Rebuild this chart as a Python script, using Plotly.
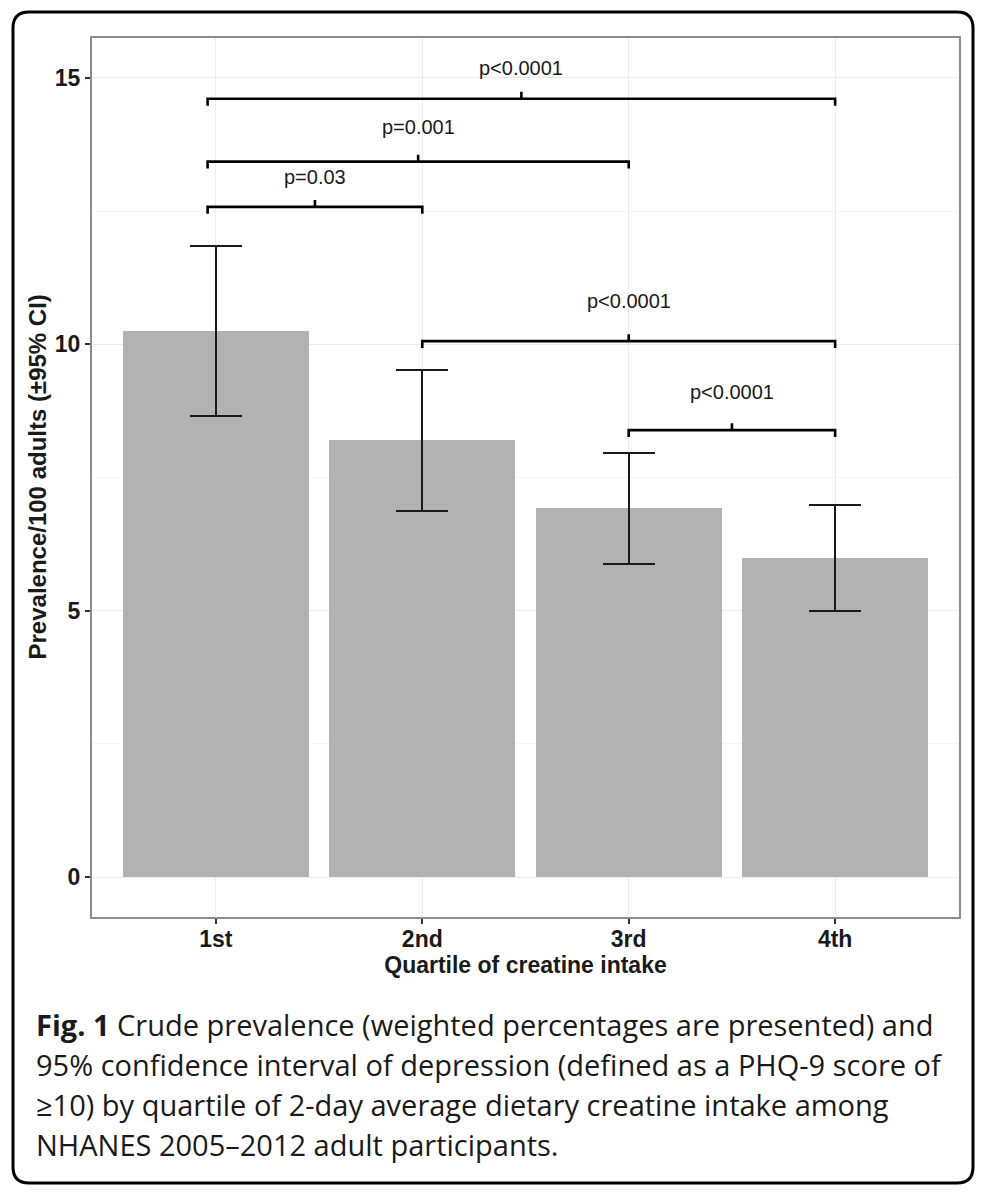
import plotly.graph_objects as go

# ---------------- data ----------------
quartiles = ["1st", "2nd", "3rd", "4th"]
quartile_pos = [1, 2, 3, 4]
prevalence = [10.25, 8.20, 6.93, 5.99]
ci_upper = [11.85, 9.52, 7.96, 6.98]
ci_lower = [8.66, 6.87, 5.88, 4.99]

# significance brackets
bracket_start = [0.96, 0.96, 0.96, 2.0, 3.0]
bracket_end = [2.0, 3.0, 4.0, 4.0, 4.0]
bracket_y = [12.58, 13.43, 14.61, 10.06, 8.39]
bracket_label = ["p=0.03", "p=0.001", "p<0.0001", "p<0.0001", "p<0.0001"]
label_y = [13.14, 14.08, 15.19, 10.81, 9.11]

y_ticks = [0, 5, 10, 15]

caption_lines = [
    "<b>Fig. 1</b> Crude prevalence (weighted percentages are presented) and",
    "95% confidence interval of depression (defined as a PHQ-9 score of",
    "\u226510) by quartile of 2-day average dietary creatine intake among",
    "NHANES 2005\u20132012 adult participants.",
]

# ---------------- layout constants ----------------
W, H = 986, 1200
ML, MR, MT, MB = 92, 27, 38, 283
PW, PH = W - ML - MR, H - MT - MB
X_RANGE = [0.4, 4.6]
Y_RANGE = [-0.75, 15.75]
BOLD = "Liberation Sans"


def px_to_paper_x(px):
    return (px - ML) / PW


def px_to_paper_y(py):
    return (H - MB - py) / PH


fig = go.Figure()

fig.add_trace(go.Bar(
    x=quartile_pos, y=prevalence, width=0.9,
    marker=dict(color="#b2b2b2", line=dict(width=0)),
    error_y=dict(type="data", symmetric=False,
                 array=[u - p for u, p in zip(ci_upper, prevalence)],
                 arrayminus=[p - l for p, l in zip(prevalence, ci_lower)],
                 color="#1a1a1a", thickness=1.8, width=26),
    showlegend=False, hoverinfo="skip",
))

# brackets
drop = 0.13
for xs, xe, yb, lab, ly in zip(bracket_start, bracket_end, bracket_y, bracket_label, label_y):
    mid = (xs + xe) / 2
    fig.add_trace(go.Scatter(
        x=[xs, xs, mid, mid, mid, xe, xe],
        y=[yb - drop, yb, yb, yb + drop, yb, yb, yb - drop],
        mode="lines", line=dict(color="black", width=2.6),
        showlegend=False, hoverinfo="skip",
    ))
    fig.add_annotation(x=mid, y=ly, text=lab, showarrow=False,
                       font=dict(family="Liberation Sans", size=20, color="#1a1a1a"),
                       xanchor="center", yanchor="middle")

# caption
cap_centers = [1024, 1064, 1104, 1145]
for line, cy in zip(caption_lines, cap_centers):
    fig.add_annotation(xref="paper", yref="paper",
                       x=px_to_paper_x(34), y=px_to_paper_y(cy),
                       text=line, showarrow=False, xanchor="left", yanchor="middle",
                       font=dict(family="Open Sans", size=29, color="#1a1a1a"))

# y-axis title
fig.add_annotation(xref="paper", yref="paper", x=px_to_paper_x(37), y=0.5,
                   text="<b>Prevalence/100 adults (\u00b195% CI)</b>", textangle=-90,
                   showarrow=False, xanchor="center", yanchor="middle",
                   font=dict(family=BOLD, size=24, color="#1a1a1a"))

# outer rounded frame
x0, x1 = px_to_paper_x(13), px_to_paper_x(973)
y0, y1 = px_to_paper_y(1183), px_to_paper_y(12)
rx, ry = 16 / PW, 16 / PH
path = (f"M {x0+rx},{y1} L {x1-rx},{y1} Q {x1},{y1} {x1},{y1-ry} "
        f"L {x1},{y0+ry} Q {x1},{y0} {x1-rx},{y0} L {x0+rx},{y0} "
        f"Q {x0},{y0} {x0},{y0+ry} L {x0},{y1-ry} Q {x0},{y1} {x0+rx},{y1} Z")
fig.add_shape(type="path", path=path, xref="paper", yref="paper",
              line=dict(color="black", width=3))

fig.update_layout(
    width=W, height=H,
    margin=dict(l=ML, r=MR, t=MT, b=MB),
    paper_bgcolor="white", plot_bgcolor="white",
    bargap=0,
)
fig.update_xaxes(
    range=X_RANGE, tickmode="array", tickvals=quartile_pos, ticktext=[f"<b>{q}</b>" for q in quartiles],
    showgrid=True, gridcolor="#ebebeb", gridwidth=1,
    showline=True, linecolor="#8c8c8c", linewidth=2, mirror=True,
    ticks="outside", ticklen=5, tickwidth=1.5, tickcolor="#333333",
    ticklabelstandoff=-5,
    tickfont=dict(family=BOLD, size=23, color="#1a1a1a"),
    title=dict(text="<b>Quartile of creatine intake</b>", standoff=3,
               font=dict(family=BOLD, size=23, color="#1a1a1a")),
    zeroline=False, fixedrange=True,
)
fig.update_yaxes(
    range=Y_RANGE, tickmode="array", tickvals=y_ticks, ticktext=[f"<b>{t}</b>" for t in y_ticks],
    showgrid=True, gridcolor="#ebebeb", gridwidth=1,
    minor=dict(tickmode="array", tickvals=[2.5, 7.5, 12.5], showgrid=True, gridcolor="#f5f5f5", gridwidth=1, ticks=""),
    showline=True, linecolor="#8c8c8c", linewidth=2, mirror=True,
    ticks="outside", ticklen=5, tickwidth=1.5, tickcolor="#333333",
    tickfont=dict(family=BOLD, size=23, color="#1a1a1a"),
    zeroline=False, fixedrange=True,
)

fig.write_html("out.html")
